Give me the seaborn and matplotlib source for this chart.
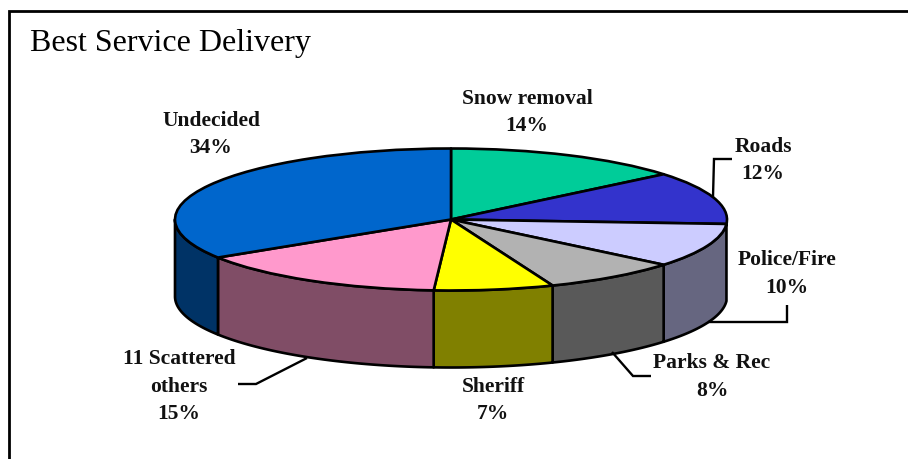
import numpy as np
import matplotlib
matplotlib.use('Agg')
import matplotlib.pyplot as plt
import seaborn as sns
from matplotlib.lines import Line2D

sns.set_theme(style='white')
plt.rcParams['font.family'] = ['Liberation Serif', 'DejaVu Serif']

categories = ['Snow removal', 'Roads', 'Police/Fire', 'Parks & Rec', 'Sheriff', '11 Scattered\nothers', 'Undecided']
shares = [14, 12, 10, 8, 7, 15, 34]
slice_colors = ['#00CC99', '#3333CC', '#CCCCFF', '#B2B2B2', '#FFFF00', '#FF99CC', '#0066CC']

W, H = 908, 459
cx, cy, rx, ry, depth = 451, 219.5, 276, 71, 77  # pie geometry in pixels

fig = plt.figure(figsize=(W / 100, H / 100), dpi=100, facecolor='white')
ax = fig.add_axes([0, 0, 1, 1])

# top of the pie, squashed into an ellipse by the axis limits below
ax.pie(shares, colors=slice_colors, startangle=90, counterclock=False,
       wedgeprops=dict(edgecolor='black', linewidth=1.9, joinstyle='round'))
ax.set_aspect('auto')
ax.set_xlim(-cx / rx, (W - cx) / rx)
ax.set_ylim((cy - H) / ry, cy / ry)
ax.axis('off')

# side wall, only the part facing front (data angles 180-360)
d = depth / ry
edges = 90 - np.cumsum([0] + shares) * 3.6
for i in range(len(shares)):
    hi, lo = edges[i], edges[i + 1]
    hi, lo = hi % 360, lo % 360
    if hi == 0:
        hi = 360
    if lo > hi:
        lo = 0 if hi < 180 else lo - 360
    a, b = max(lo, 180), hi
    if lo < 0:
        a = 180
    if b <= a:
        continue
    t = np.radians(np.linspace(a, b, 80))
    xs = np.r_[np.cos(t), np.cos(t[::-1])]
    ys = np.r_[np.sin(t), np.sin(t[::-1]) - d]
    wall = tuple(c * 0.5 for c in matplotlib.colors.to_rgb(slice_colors[i]))
    ax.fill(xs, ys, facecolor=wall, edgecolor='black', linewidth=1.9, joinstyle='round', zorder=0.5)


def px_line(xs, ys, lw=1.7):
    fig.add_artist(Line2D([x / W for x in xs], [1 - y / H for y in ys], color='black',
                          linewidth=lw, solid_joinstyle='miter', solid_capstyle='butt'))


# chart border, only top and left are in the crop
px_line([9, 9, W], [H, 11, 11], lw=2.0)

# leader lines
px_line([713, 714, 732], [197, 159, 159])
px_line([708, 787, 787], [322, 322, 305])
px_line([612, 633, 651], [352, 376, 376])
px_line([307, 256, 238], [358, 384, 384])

fig.text(30 / W, 1 - 43 / H, 'Best Service Delivery', fontsize=23, color='black', ha='left', va='center')

label_x = [527, 763, 787, 712, 493, 179, 211]
label_y = [112.5, 160.5, 274, 377, 400.5, 386.5, 134.5]
for name, share, x, y in zip(categories, shares, label_x, label_y):
    fig.text(x / W, 1 - y / H, f'{name}\n{share}%', fontsize=15.5, fontweight='bold', color='#111111',
             ha='center', va='center', linespacing=1.51, multialignment='center')

fig.savefig('out.png', dpi=100, facecolor='white')
